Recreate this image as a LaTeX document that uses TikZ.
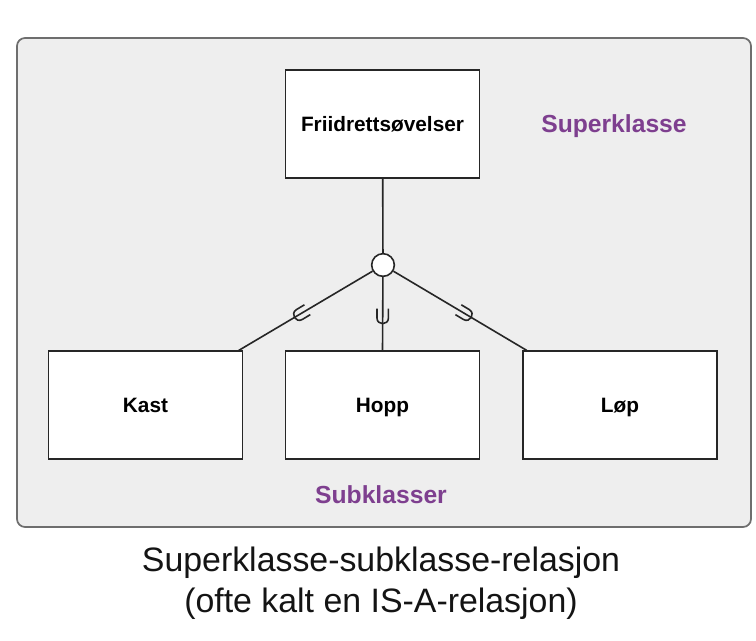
\documentclass[tikz,border=0pt]{standalone}
\usepackage{fontspec}
\setmainfont{Liberation Sans}
\usetikzlibrary{calc}

\definecolor{lilla}{HTML}{7E3F8F}
\definecolor{bakgrunn}{HTML}{EEEEEE}
\definecolor{ramme}{HTML}{6E6E6E}

\tikzstyle{klasse} = [draw=black!85, fill=white, line width=1.4pt, minimum width=145.5pt, minimum height=80.5pt, text height=11.2pt, text depth=0pt, font=\fontsize{15.6}{18}\selectfont\bfseries]
\tikzstyle{spes} = [circle, draw=black!85, fill=white, line width=1.2pt, minimum size=17pt, inner sep=0pt]
\tikzstyle{etikett} = [text=lilla, font=\fontsize{18.5}{22}\selectfont\bfseries, anchor=base]
\tikzstyle{linje} = [draw=black!85, line width=1.2pt]
\tikzset{delmengde/.pic={
    \draw[linje] (-4.3pt,7pt) -- (-4.3pt,0pt) .. controls (-4.3pt,-5.7pt) and (4.3pt,-5.7pt) .. (4.3pt,0pt) -- (4.3pt,7pt);
}}

\begin{document}
\begin{tikzpicture}[x=0.75pt, y=-0.75pt]
\useasboundingbox (0,0) rectangle (756,640);
% bakgrunn
\draw[draw=ramme, fill=bakgrunn, line width=1.3pt, rounded corners=6pt] (17,38) rectangle (751,527);

% klasser
\node[klasse] (super) at (382.5,124) {Friidrettsøvelser};
\node[klasse] (kast) at (145.5,405) {Kast};
\node[klasse] (hopp) at (382.5,405) {Hopp};
\node[klasse] (lop) at (620,405) {Løp};
\node[spes] (isa) at (383,265) {};

% linjer
\draw[linje] (super) -- (isa);
\draw[linje] (isa) -- ([xshift=-3.5pt]kast.north east);
\draw[linje] (isa) -- (hopp.north);
\draw[linje] (isa) -- ([xshift=3.5pt]lop.north west);

% delmengde-symboler
\pic[rotate=-59] at ($(isa)!0.58!([xshift=-3.5pt]kast.north east)$) {delmengde};
\pic at ($(isa)!0.62!(hopp.north)$) {delmengde};
\pic[rotate=59] at ($(isa)!0.58!([xshift=3.5pt]lop.north west)$) {delmengde};

% tekster
\node[etikett] (superlabel) at (614,132) {Superklasse};
\node[etikett] (sublabel) at (381,503) {Subklasser};
\node[font=\fontsize{25.4}{30.75}\selectfont, align=center, text=black!92] (tittel) at (381,583) {Superklasse-subklasse-relasjon\\(ofte kalt en IS-A-relasjon)};
\end{tikzpicture}
\end{document}
